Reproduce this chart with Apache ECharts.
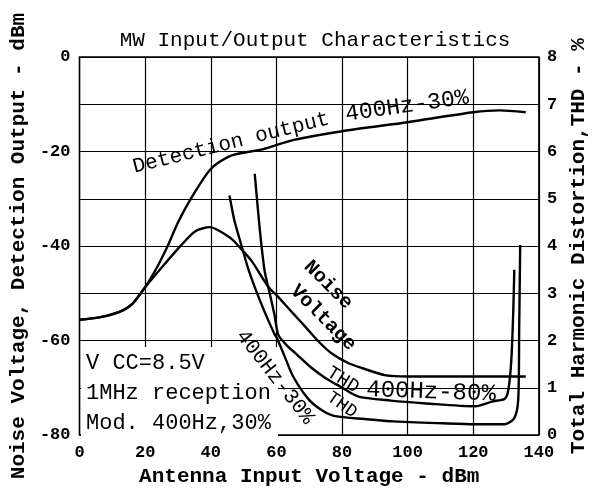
<!DOCTYPE html>
<html>
<head>
<meta charset="utf-8">
<script src="https://cdn.jsdelivr.net/npm/echarts@6/dist/echarts.min.js"></script>
<style>
html, body { margin: 0; padding: 0; background: #fff; }
#chart { width: 597px; height: 492px; }
</style>
</head>
<body>
<div id="chart"></div>
<script>
// curves: [antenna input dBm, value]
const detectionOutput = [
  [0, -55.6], [6, -55.1], [12, -54.0], [16, -52.3], [20, -48.7], [24, -44.0],
  [27, -39.8], [30, -35.0], [34, -29.9], [40, -23.7], [46, -20.9], [56, -19.5],
  [65, -17.6], [80, -15.7], [100, -13.8], [120, -11.7], [128, -11.3], [136, -11.7]
]
const noiseVoltage = [
  [0, -55.6], [6, -55.1], [12, -54.0], [16, -52.3], [20, -48.7], [25.7, -44.0],
  [31, -39.8], [35.2, -36.9], [39.7, -36.0], [46, -38.3], [49, -40.4], [52.5, -43.2],
  [57.5, -48.6], [60.6, -50.8], [65, -54.2], [69, -57.2], [73, -60.3], [77, -62.8],
  [82, -64.8], [86, -65.8], [93, -67.3], [100, -67.6], [136, -67.6]
]
// THD, right axis (%)
const thd30 = [
  [45.7, 5.07], [47.2, 4.54], [48.7, 4.17], [51.6, 3.48], [55.5, 2.76], [59.4, 2.14],
  [60.2, 2.05], [62.6, 1.65], [65.1, 1.24], [69.9, 0.75], [74, 0.52], [77.9, 0.40],
  [86.9, 0.34], [95.8, 0.29], [110.7, 0.25], [120.6, 0.23], [129.6, 0.23], [132.5, 0.36],
  [133.7, 0.75], [134, 2.28], [134.3, 4.02]
]
const thd80 = [
  [53.4, 5.53], [54.9, 4.38], [56.4, 3.48], [57.9, 3.02], [59.4, 2.55], [60.6, 2.12],
  [63, 1.91], [66, 1.72], [70.4, 1.44], [74.9, 1.21], [79.4, 1.03], [84.8, 0.82],
  [94.9, 0.73], [105.7, 0.67], [120.6, 0.61], [125.7, 0.71], [129.6, 0.77], [130.7, 0.96],
  [131.6, 1.59], [132.2, 2.64], [132.5, 3.5]
]
const noteLines = ['V CC=8.5V', '1MHz reception', 'Mod. 400Hz,30%']

const mono = 'Liberation Mono'
const chart = echarts.init(document.getElementById('chart'))

// deg > 0 tilts the text up to the right
function label(text, x, y, deg, size, weight) {
  return {
    type: 'text',
    x: x,
    y: y,
    rotation: deg * Math.PI / 180,
    z: 100,
    style: {
      text: text,
      fontFamily: mono,
      fontSize: size,
      fontWeight: weight || 'normal',
      fill: '#000',
      align: 'center',
      verticalAlign: 'middle'
    }
  }
}

function curve(name, data, axis) {
  return {
    name: name,
    type: 'line',
    yAxisIndex: axis,
    data: data,
    smooth: 0.25,
    showSymbol: false,
    lineStyle: { color: '#000', width: 2.4 },
    animation: false
  }
}

const axisLbl = { color: '#000', fontFamily: mono, fontWeight: 'bold', fontSize: 17 }
const axisName = { color: '#000', fontFamily: mono, fontWeight: 'bold', fontSize: 21 }

let option = {
  backgroundColor: '#fff',
  grid: {
    left: 79, right: 49, top: 57, bottom: 53,
    show: true, borderColor: '#000', borderWidth: 1.5
  },
  xAxis: {
    type: 'value',
    min: 0, max: 140, interval: 20,
    name: 'Antenna Input Voltage - dBm',
    nameLocation: 'middle',
    nameGap: 26,
    nameTextStyle: axisName,
    axisLine: { show: false },
    axisTick: { show: false },
    axisLabel: Object.assign({ margin: 9 }, axisLbl),
    splitLine: { lineStyle: { color: '#000', width: 1.2 } }
  },
  yAxis: [
    {
      type: 'value',
      min: -80, max: 0, interval: 20,
      name: 'Noise Voltage, Detection Output - dBm',
      nameLocation: 'middle',
      nameRotate: 90,
      nameGap: 50,
      nameTextStyle: axisName,
      axisLine: { show: false },
      axisTick: { show: false },
      axisLabel: Object.assign({ margin: 9 }, axisLbl),
      splitLine: { lineStyle: { color: '#000', width: 1.2 } },
      minorTick: { show: false, splitNumber: 2 },
      minorSplitLine: { show: true, lineStyle: { color: '#000', width: 1.2 } }
    },
    {
      type: 'value',
      min: 0, max: 8, interval: 1,
      position: 'right',
      name: 'Total Harmonic Distortion,THD - %',
      nameLocation: 'middle',
      nameRotate: 90,
      nameGap: 28,
      nameTextStyle: axisName,
      axisLine: { show: false },
      axisTick: { show: false },
      axisLabel: Object.assign({ margin: 8 }, axisLbl),
      splitLine: { show: false }
    }
  ],
  series: [
    curve('Detection output', detectionOutput, 0),
    curve('Noise Voltage', noiseVoltage, 0),
    curve('THD 400Hz-30%', thd30, 1),
    curve('THD 400Hz-80%', thd80, 1)
  ],
  graphic: [
    {
      type: 'rect',
      z: 50,
      shape: { x: 81, y: 347, width: 197, height: 91 },
      style: { fill: '#fff' }
    },
    label('MW Input/Output Characteristics', 315, 40, 0, 21),
    label('Detection output', 231, 143, 14, 21),
    label('400Hz-30%', 407, 106, 8, 23),
    label('Noise', 328, 285, -45, 20, 'bold'),
    label('Voltage', 323, 318, -45, 20, 'bold'),
    label('400Hz-30%', 275, 377, -52, 21),
    label('THD', 343, 380, -32, 19),
    label('400Hz-80%', 431, 392, -2, 24),
    label('THD', 342, 405, -35, 18),
    {
      type: 'text',
      x: 86,
      y: 348,
      z: 100,
      style: {
        text: noteLines.join('\n'),
        fontFamily: mono,
        fontSize: 22,
        lineHeight: 30,
        fill: '#000',
        align: 'left',
        verticalAlign: 'top'
      }
    }
  ]
}

chart.setOption(option)
</script>
</body>
</html>
